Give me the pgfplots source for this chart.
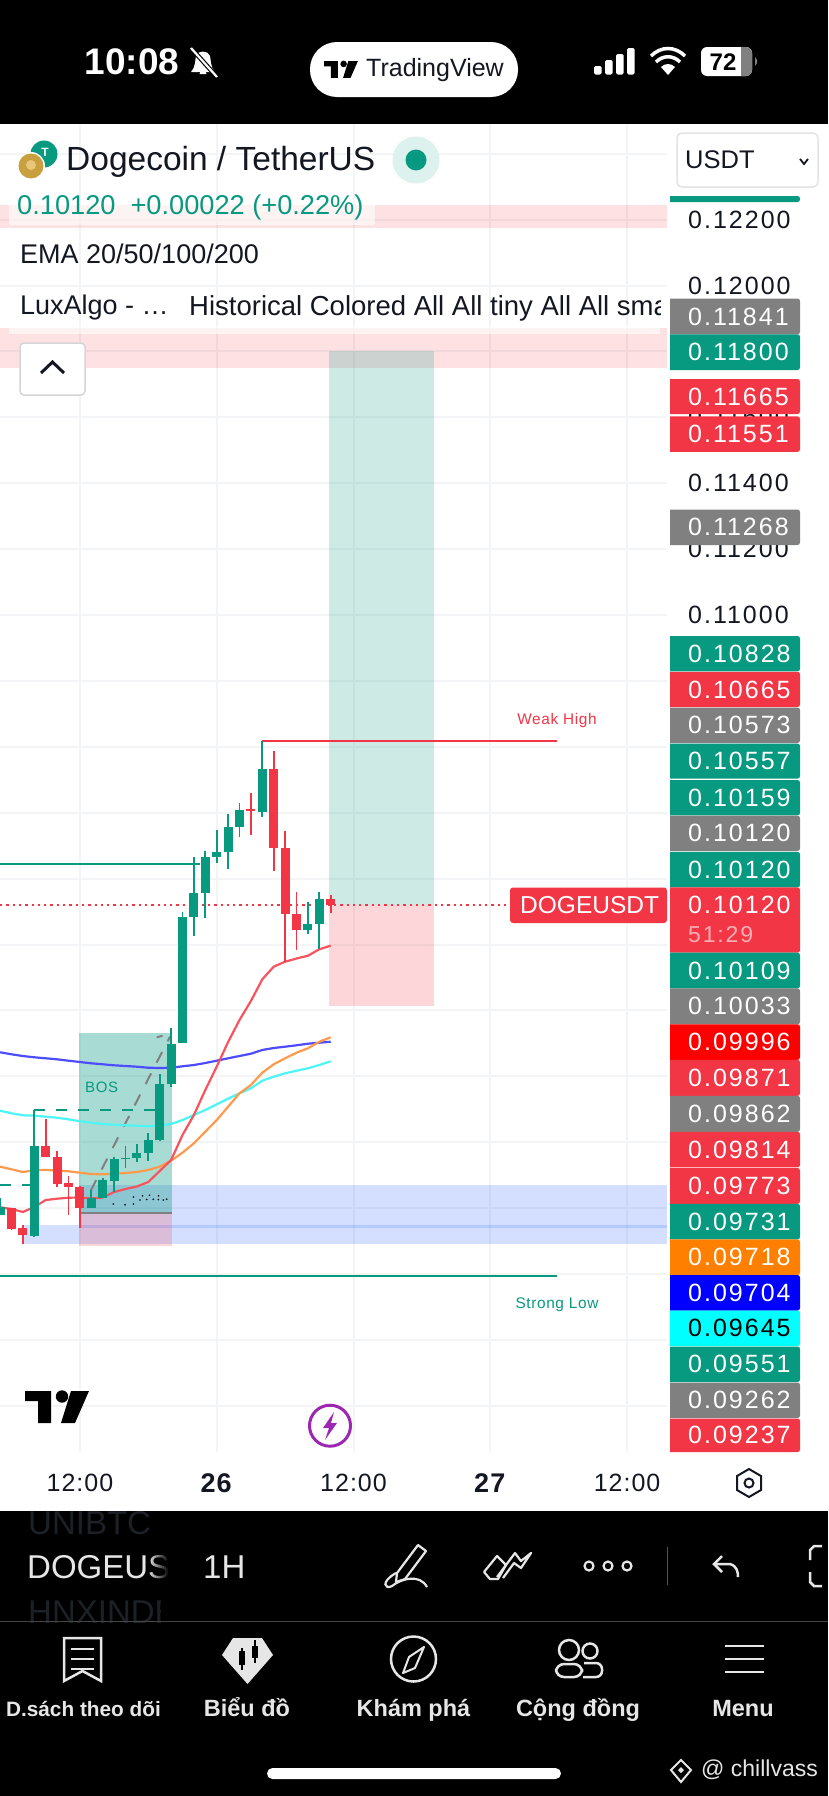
\documentclass[border=0pt]{standalone}
\usepackage{fontspec}
\usepackage{pgfplots}
\pgfplotsset{compat=1.18}
\usepackage{pgfplotstable}
\setmainfont{Liberation Sans}
\newfontfamily\pf[LetterSpace=8]{Liberation Sans}
\newfontfamily\af[LetterSpace=4]{Liberation Sans}
\newcommand\fs[1]{\fontsize{#1pt}{#1pt}\selectfont}
\definecolor{tvg}{HTML}{089981}
\definecolor{tvr}{HTML}{F23645}
\definecolor{tvk}{HTML}{131722}
\definecolor{gridc}{HTML}{F3F4F5}
\definecolor{ema20}{HTML}{F8545F}
\definecolor{ema50}{HTML}{FF9A4D}
\definecolor{ema100}{HTML}{4DF5F5}
\definecolor{ema200}{HTML}{4D4DFF}
\definecolor{zone}{HTML}{2962FF}
\definecolor{greyb}{HTML}{808080}
\definecolor{ghost}{HTML}{1C2027}
\definecolor{tabc}{HTML}{E6E6E6}
\definecolor{dogeg}{HTML}{C8A040}
\definecolor{dogel}{HTML}{E8C878}
\definecolor{dotbg}{HTML}{DDF2EE}
\definecolor{btnb}{HTML}{E3E3E3}
\definecolor{btnc}{HTML}{D5D5D5}
\definecolor{purp}{HTML}{9C27B0}
\definecolor{orng}{HTML}{FF8000}
\definecolor{sep}{HTML}{444444}
\definecolor{sepb}{HTML}{555555}
\definecolor{pcyan}{RGB}{0,255,255}
\definecolor{pblue}{RGB}{0,0,255}
\definecolor{pred}{RGB}{255,0,0}
\definecolor{dotc}{HTML}{9FD8F5}
\pgfplotstableread{
t l h bot top
-19 .091791 .092306 .091791 .092033
-16 .091123 .094977 .091153 .093885
-11 .092003 .092549 .092003 .092306
-10 .092306 .092913 .092306 .092853
-9 .092489 .093551 .092822 .093490
-8 .093217 .093885 .093490 .093520
-7 .093399 .093945 .093520 .093672
-6 .093429 .094279 .093672 .094067
-5 .094036 .096070 .094067 .095766
-4 .095675 .097466 .095766 .096980
-3 .097011 .100986 .097011 .100835
-2 .100258 .102656 .100835 .101563
-1 .100804 .102838 .101563 .102656
0 .102473 .103475 .102656 .102807
1 .102291 .103961 .102807 .103566
2 .103263 .104294 .103566 .104082
4 .103870 .106176 .104021 .105326
8 .100319 .101290 .100440 .100622
9 .099863 .101593 .100622 .101381
}\upcandles
\pgfplotstableread{
t l h bot top
-18 .091335 .092003 .091366 .092003
-17 .090910 .091487 .091184 .091396
-15 .093551 .094704 .093551 .093885
-14 .092640 .093733 .092731 .093551
-13 .091791 .092974 .092640 .092762
-12 .091396 .092671 .092003 .092640
3 .103323 .104598 .104052 .104112
5 .102231 .105873 .102929 .105326
6 .099469 .103445 .100926 .102929
7 .099833 .101593 .100440 .100926
10 .100956 .101502 .101199 .101381
}\downcandles
\pgfplotstableread{
t e20 e50 e100 e200
-19 .092025 .093257 .094956 .096729
-18 .091973 .093178 .094877 .096668
-17 .091882 .093096 .094817 .096616
-16 .092034 .093148 .094805 .096577
-15 .092246 .093157 .094774 .096547
-14 .092286 .093142 .094744 .096516
-13 .092316 .093117 .094695 .096474
-12 .092322 .093075 .094635 .096434
-11 .092292 .093035 .094592 .096395
-10 .092322 .093026 .094553 .096365
-9 .092489 .093044 .094531 .096334
-8 .092580 .093066 .094513 .096313
-7 .092656 .093096 .094501 .096292
-6 .092792 .093157 .094483 .096261
-5 .093126 .093257 .094513 .096252
-4 .093460 .093439 .094553 .096261
-3 .094219 .093682 .094674 .096304
-2 .094826 .093967 .094826 .096343
-1 .095585 .094319 .094978 .096404
0 .096292 .094674 .095151 .096474
1 .097041 .095078 .095321 .096547
2 .097709 .095484 .095484 .096616
3 .098286 .095736 .095636 .096686
4 .098944 .096110 .095867 .096799
5 .099327 .096365 .095988 .096859
6 .099478 .096547 .096091 .096899
7 .099575 .096717 .096170 .096941
8 .099660 .096850 .096243 .096990
9 .099855 .097050 .096343 .097020
10 .099964 .097184 .096456 .097050
}\emas
% badge: top, bottom, fill, text colour, text
\newcommand\badge[5]{%
  \fill[#3] (670,#1) {[rounded corners=2.5pt] -- (800,#1) -- (800,#2)} -- (670,#2) -- cycle;
  \pgfmathsetmacro\ymid{(#1+#2)/2}
  \node[anchor=west,inner sep=0pt,text=#4,font=\pf\fs{25}] at (688,\ymid) {#5};
}
\newcommand\tvlogo[4]{%
  \begin{scope}[shift={(#1,#2)},xscale=#3,yscale=#3]
   \fill[#4] (0,0) -- (26,0) -- (26,32) -- (13,32) -- (13,10) -- (0,10) -- cycle;
   \fill[#4] (37,5.5) circle (6.2);
   \fill[#4] (46,0) -- (64,0) -- (50,32) -- (36,32) -- cycle;
  \end{scope}}
\begin{document}
\begin{tikzpicture}
\useasboundingbox (0,0) rectangle (828pt,-1796pt);
\fill[white] (0,0) rectangle (828pt,-1796pt);
\begin{axis}[
  at={(0pt,-1452pt)},anchor=south west,
  scale only axis,width=667pt,height=1328pt,
  xmin=-19.009,xmax=39.5,ymin=0.084598,ymax=0.124901,
  axis line style={draw=none},
  major tick length=0pt,
  scaled y ticks=false,
  grid=major,
  grid style={draw=gridc,line width=2pt},
  xtick={-12,0,12,24,36},
  xticklabels={12:00,\fs{27}\textbf{26},12:00,\fs{27}\textbf{27},12:00},
  xticklabel style={font=\af\fs{25},text=tvk,anchor=center,inner sep=0pt,yshift=-31pt},
  ytick={0.086,0.088,0.09,0.092,0.094,0.096,0.098,0.1,0.102,0.104,0.106,0.108,0.11,0.112,0.114,0.116,0.118,0.12,0.122,0.124},
  yticklabels={,,,,,,,,,,,,0.11000,0.11200,0.11400,0.11600,,0.12000,0.12200,},
  yticklabel pos=right,
  yticklabel style={font=\pf\fs{25},text=tvk,anchor=west,inner sep=0pt,xshift=21pt},
]
% supply bands
\addplot[draw=none,fill=tvr,fill opacity=.15] coordinates {(-19.009,.122443)(39.5,.122443)(39.5,.121745)(-19.009,.121745)} -- cycle;
\addplot[draw=none,fill=tvr,fill opacity=.15] coordinates {(-19.009,.118710)(39.5,.118710)(39.5,.117496)(-19.009,.117496)} -- cycle;
% demand zones
\addplot[draw=none,fill=zone,fill opacity=.2] coordinates {(-12.08,.092701)(39.5,.092701)(39.5,.090910)(-12.08,.090910)} -- cycle;
\addplot[draw=none,fill=zone,fill opacity=.2] coordinates {(-17,.091487)(-12.08,.091487)(-12.08,.090910)(-17,.090910)} -- cycle;
\addplot[draw=zone,draw opacity=.18,line width=3pt] coordinates {(-12.08,.091441)(39.5,.091441)};
% long position
\addplot[draw=none,fill=tvg,fill opacity=.2] coordinates {(9.88,.11800)(19.06,.11800)(19.06,.1012)(9.88,.1012)} -- cycle;
\addplot[draw=none,fill=tvr,fill opacity=.2] coordinates {(9.88,.1012)(19.06,.1012)(19.06,.09814)(9.88,.09814)} -- cycle;
% BOS box
\addplot[draw=none,fill=tvg,fill opacity=.35] coordinates {(-12.08,.097323)(-3.92,.097323)(-3.92,.091851)(-12.08,.091851)} -- cycle;
\addplot[draw=none,fill=tvr,fill opacity=.2] coordinates {(-12.08,.091851)(-3.92,.091851)(-3.92,.090850)(-12.08,.090850)} -- cycle;
\addplot[draw=greyb,line width=2pt] coordinates {(-12.08,.091851)(-3.92,.091851)};
\addplot[only marks,mark=*,mark size=.6pt,mark options={draw=none,fill=dotc}] coordinates {(-9.07,.092124)(-8.04,.092100)(-7.3,.092124)(-6.73,.092246)(-6.14,.092260)(-5.56,.092270)(-5.12,.092260)(-4.68,.092246)(-4.39,.092270)(-7.3,.092337)(-6.5,.092370)(-5.9,.092390)(-5.1,.092370)};
% structure lines
\addplot[draw=tvg,line width=2pt] coordinates {(-19.009,.102434)(-1.46,.102434)};
\addplot[draw=tvg,line width=2pt] coordinates {(-19.009,.089949)(29.85,.089949)};
\addplot[draw=tvr,line width=2pt] coordinates {(4,.106167)(29.85,.106167)};
\addplot[draw=tvg,line width=2pt,dash pattern=on 11pt off 11pt] coordinates {(-16,.094968)(-5.3,.094968)};
\addplot[draw=tvg,line width=2pt,dash pattern=on 11pt off 11pt] coordinates {(-19.009,.092710)(-16.3,.092710)};
\addplot[draw=tvr,line width=2pt,dash pattern=on 2.3pt off 4pt] coordinates {(-19.009,.1012)(39.5,.1012)};
\addplot[draw=greyb,line width=2pt,dash pattern=on 12pt off 12pt] coordinates {(-11.05,.092528)(-4.1,.097202)};
\addplot[draw=greyb,line width=2pt,dash pattern=on 6pt off 4pt] coordinates {(-5.26,.097182)(-4.53,.097253)};
% EMAs
\addplot[draw=ema200,line width=2.2pt] table[x=t,y=e200] {\emas};
\addplot[draw=ema100,line width=2.2pt] table[x=t,y=e100] {\emas};
\addplot[draw=ema50,line width=2.2pt] table[x=t,y=e50] {\emas};
\addplot[draw=ema20,line width=2.2pt] table[x=t,y=e20] {\emas};
% candles
\addplot[draw=none,mark=none,forget plot,error bars/.cd,y dir=plus,y explicit,error mark=none,error bar style={draw=tvg,line width=1.8pt}] table[x=t,y=l,y error expr=\thisrow{h}-\thisrow{l}] {\upcandles};
\addplot[draw=none,mark=none,forget plot,error bars/.cd,y dir=plus,y explicit,error mark=none,error bar style={draw=tvg,line width=9pt}] table[x=t,y=bot,y error expr=\thisrow{top}-\thisrow{bot}] {\upcandles};
\addplot[draw=none,mark=none,forget plot,error bars/.cd,y dir=plus,y explicit,error mark=none,error bar style={draw=tvr,line width=1.8pt}] table[x=t,y=l,y error expr=\thisrow{h}-\thisrow{l}] {\downcandles};
\addplot[draw=none,mark=none,forget plot,error bars/.cd,y dir=plus,y explicit,error mark=none,error bar style={draw=tvr,line width=9pt}] table[x=t,y=bot,y error expr=\thisrow{top}-\thisrow{bot}] {\downcandles};
\node[text=tvr,font=\af\fs{15.4}] at (axis cs:29.85,.106813) {Weak High};
\node[text=tvg,font=\af\fs{15.4}] at (axis cs:29.85,.089060) {Strong Low};
\node[text=tvg,font=\af\fs{15}] at (axis cs:-10.09,.095655) {BOS};
\end{axis}
\begin{scope}[x=1pt,y=-1pt]
% status bar
\fill[black] (0,0) rectangle (828,124);
\node[text=white,font=\bfseries\fs{37},anchor=center] at (132,62) {10:08};
\begin{scope}[shift={(203,62)}]
 \fill[white] (-12,10) .. controls (-7,4) and (-8,-2) .. (-7,-6) .. controls (-5,-12) and (5,-12) .. (7,-6) .. controls (8,-2) and (7,4) .. (12,10) -- cycle;
 \fill[white] (-3.5,12) arc (180:360:3.5) -- cycle;
 \draw[black,line width=4.5pt] (-12,-14) -- (14,15);
 \draw[white,line width=2.2pt] (-12,-14) -- (14,15);
\end{scope}
\fill[white,rounded corners=27pt] (310,42) rectangle (518,97);
\tvlogo{324}{61}{.53}{black}
\node[text=tvk,font=\fs{25},anchor=west,inner sep=0pt] at (366,70) {TradingView};
\foreach \xx/\yy in {594/66,605/60,616/54,627/48} {\fill[white,rounded corners=1.5pt] (\xx,\yy) rectangle ({\xx+7.5},74.5);}
\fill[white] (668,75) -- (661,67) .. controls (665,63) and (671,63) .. (675,67) -- cycle;
\draw[white,line width=3.5pt] (656,62) .. controls (663,55) and (673,55) .. (680,62);
\draw[white,line width=3.5pt] (651,56) .. controls (661,46) and (675,46) .. (685,56);
\fill[white,rounded corners=6pt] (701,47) rectangle (752,76);
\begin{scope}\clip (741,47) rectangle (752,76);\fill[greyb,rounded corners=6pt] (701,47) rectangle (752,76);\end{scope}
\fill[greyb] (755,57) -- (757,60) -- (757,63) -- (755,66) -- cycle;
\node[text=black,font=\bfseries\fs{24}] at (723,62) {72};
% header rows
\fill[white,opacity=.6] (9,205) rectangle (375,225);
\fill[white,opacity=.6] (9,326) rectangle (660,334);
\fill[tvg] (44,154) circle (13.5);
\node[text=white,font=\bfseries\fs{12}] at (45,152) {T};
\fill[white] (31,166) circle (14);
\fill[dogeg] (31,166) circle (12.5);
\fill[dogel] (31,165) circle (5);
\node[text=tvk,font=\fs{33.5},anchor=west,inner sep=0pt] at (66,161.5) {Dogecoin / TetherUS};
\fill[dotbg] (416,160) circle (23.5);
\fill[tvg] (416,160) circle (10.5);
\filldraw[fill=white,draw=btnb,rounded corners=5pt,line width=1.5pt] (677,133) rectangle (818,187);
\node[text=tvk,font=\fs{25.5},anchor=west,inner sep=0pt] at (685,160) {USDT};
\draw[tvk,line width=1.8pt] (800,159) -- (804,164) -- (808,159);
\node[text=tvg,font=\fs{27.2},anchor=west,inner sep=0pt] at (17,207) {0.10120\ \ +0.00022 (+0.22\%)};
\node[text=tvk,font=\fs{27},anchor=west,inner sep=0pt] at (20,253.5) {EMA 20/50/100/200};
\node[text=tvk,font=\fs{27},anchor=west,inner sep=0pt] at (20,308) {LuxAlgo - …};
\begin{scope}\clip (185,285) rectangle (660,330);
\node[text=tvk,font=\fs{27.5},anchor=west,inner sep=0pt] at (189,308) {Historical Colored All All tiny All All small};
\end{scope}
\filldraw[fill=white,draw=btnc,rounded corners=4pt,line width=1.5pt] (20,343) rectangle (85,395);
\draw[tvk,line width=3pt] (41,373) -- (52.5,362) -- (64,373);
% top sliver badge and price badges
\fill[tvg] (670,196) {[rounded corners=2.5pt] -- (800,196) -- (800,202)} -- (670,202) -- cycle;
\badge{298.6}{334.3}{greyb}{white}{0.11841}
\badge{334.3}{370}{tvg}{white}{0.11800}
\badge{379}{414}{tvr}{white}{0.11665}
\badge{416.4}{451.8}{tvr}{white}{0.11551}
\badge{509.6}{545}{greyb}{white}{0.11268}
\badge{636}{671.4}{tvg}{white}{0.10828}
\badge{671.8}{707}{tvr}{white}{0.10665}
\badge{707.5}{743}{greyb}{white}{0.10573}
\badge{743.6}{778.6}{tvg}{white}{0.10557}
\badge{780}{815.4}{tvg}{white}{0.10159}
\badge{815.7}{851}{greyb}{white}{0.10120}
\badge{851.9}{887.4}{tvg}{white}{0.10120}
\fill[tvr] (670,887.4) {[rounded corners=2.5pt] -- (800,887.4) -- (800,952.7)} -- (670,952.7) -- cycle;
\node[anchor=west,inner sep=0pt,text=white,font=\pf\fs{25}] at (688,905) {0.10120};
\node[anchor=west,inner sep=0pt,text=white,text opacity=.6,font=\pf\fs{23}] at (688,934.5) {51:29};
\badge{952.7}{988.3}{tvg}{white}{0.10109}
\badge{988.3}{1024.3}{greyb}{white}{0.10033}
\badge{1024.3}{1059.8}{pred}{white}{0.09996}
\badge{1059.8}{1095.8}{tvr}{white}{0.09871}
\badge{1095.8}{1131.8}{greyb}{white}{0.09862}
\badge{1131.8}{1167.4}{tvr}{white}{0.09814}
\badge{1168}{1203.8}{tvr}{white}{0.09773}
\badge{1203.8}{1239.4}{tvg}{white}{0.09731}
\badge{1239.4}{1275}{orng}{white}{0.09718}
\badge{1275}{1310.5}{pblue}{white}{0.09704}
\badge{1310.5}{1346}{pcyan}{black}{0.09645}
\badge{1346.5}{1382}{tvg}{white}{0.09551}
\badge{1382.5}{1418}{greyb}{white}{0.09262}
\badge{1418.5}{1452}{tvr}{white}{0.09237}
% symbol label
\fill[tvr,rounded corners=3pt] (510,887.5) rectangle (667,923);
\node[text=white,font=\fs{24.5},anchor=west,inner sep=0pt] at (520,905.5) {DOGEUSDT};
% logo, lightning, hexagon
\tvlogo{25}{1391}{1}{black}
\draw[purp,line width=3pt] (330,1425.7) circle (20.5);
\fill[purp] (334,1412) -- (323,1428) -- (329,1428) -- (325,1440) -- (337,1423) -- (331,1423) -- cycle;
\draw[tvk,line width=2pt] (749,1469) -- (761,1476) -- (761,1490) -- (749,1497) -- (737,1490) -- (737,1476) -- cycle;
\draw[tvk,line width=2pt] (749,1483) circle (4.5);
% bottom panel
\fill[black] (0,1511) rectangle (828,1796);
\begin{scope}\clip (0,1511) rectangle (164,1540);
\node[text=ghost,font=\fs{33},anchor=west,inner sep=0pt] at (28,1523) {UNIBTC};
\end{scope}
\begin{scope}\clip (0,1592) rectangle (160,1625);
\node[text=ghost,font=\fs{33},anchor=west,inner sep=0pt] at (28,1612) {HNXINDEX};
\end{scope}
\begin{scope}\clip (0,1540) rectangle (171,1595);
\node[text=tabc,font=\fs{33},anchor=west,inner sep=0pt] at (27,1567) {DOGEUSDT};
\foreach \ii in {0,...,9} {\pgfmathsetmacro\oo{.1*(\ii+1)}\fill[black,opacity=\oo] ({150+2*\ii},1540) rectangle ({152+2*\ii},1595);}
\fill[black] (170,1540) rectangle (172,1595);
\end{scope}
\node[text=tabc,font=\fs{33},anchor=west,inner sep=0pt] at (203,1567) {1H};
\draw[sep,line width=1pt] (0,1621) -- (828,1621);
% toolbar icons
\draw[tabc,line width=2.2pt,line join=round] (397,1573) -- (418,1545) -- (426,1551) -- (405,1579) -- (396,1582) -- cycle;
\draw[tabc,line width=2.2pt] (396,1573) .. controls (380,1582) and (385,1590) .. (392,1586) .. controls (402,1578) and (420,1574) .. (427,1587);
\draw[tabc,line width=2.2pt,line join=round] (484,1572) -- (497,1556) -- (506,1565) -- (498,1579) -- (490,1579) -- (484,1572);
\draw[tabc,line width=2.2pt,line join=round] (497,1577) -- (515,1553) -- (521,1561) -- (531,1553) -- (521,1568) -- (514,1563) -- (503,1578);
\foreach \xx in {589,608,627} {\draw[tabc,line width=2.2pt] (\xx,1566) circle (4.5);}
\draw[sepb,line width=1pt] (667,1547) -- (667,1585);
\draw[tabc,line width=2.5pt] (722,1556) -- (714,1564) -- (722,1572);
\draw[tabc,line width=2.5pt] (714,1564) -- (730,1564) .. controls (737,1566) and (738,1572) .. (738,1577);
\draw[tabc,line width=2.5pt] (822,1546) -- (814,1546) -- (810,1550) -- (810,1560);
\draw[tabc,line width=2.5pt] (822,1586) -- (814,1586) -- (810,1582) -- (810,1572);
% tab bar icons
\draw[tabc,line width=2.5pt,line join=miter] (64,1638) -- (101,1638) -- (101,1681) -- (82.5,1671) -- (64,1681) -- cycle;
\foreach \yy in {1649,1659,1669} {\draw[tabc,line width=2.5pt] (71,\yy) -- (94,\yy);}
\fill[tabc] (233,1638) -- (262,1638) -- (273,1655) -- (247.5,1684) -- (222,1655) -- cycle;
\draw[black,line width=2pt] (240,1652) rectangle (244,1664);\draw[black,line width=2pt] (242,1648) -- (242,1670);
\fill[black] (252,1646) rectangle (258,1658);\draw[black,line width=2pt] (255,1640) -- (255,1663);
\draw[tabc,line width=2.5pt] (413.5,1659) circle (22.5);
\draw[tabc,line width=2pt,line join=round] (424,1647) -- (415,1668) -- (403,1673) -- (409,1657) -- cycle;
\draw[tabc,line width=2.5pt] (569,1650) circle (10);
\draw[tabc,line width=2.5pt] (590,1651) circle (7.5);
\draw[tabc,line width=2.5pt,rounded corners=8pt] (556,1677) -- (556,1664) -- (582,1664) -- (582,1677) -- cycle;
\draw[tabc,line width=2.5pt,rounded corners=6pt] (584,1663) -- (602,1663) -- (602,1677) -- (583,1677);
\foreach \yy in {1646,1659,1672} {\draw[tabc,line width=2.8pt] (725,\yy) -- (764,\yy);}
\node[text=tabc,font=\bfseries\fs{20.8},anchor=base,inner sep=0pt] at (83.5,1716) {D.sách theo dõi};
\foreach \xx/\tt in {247/Biểu đồ,413.5/Khám phá,578/Cộng đồng,743/Menu} {\node[text=tabc,font=\bfseries\fs{23.5},anchor=base,inner sep=0pt] at (\xx,1716) {\tt};}
\fill[white,rounded corners=5.5pt] (267,1768) rectangle (561,1779);
% watermark
\begin{scope}[shift={(681,1770)}]
 \draw[tabc,line width=2pt] (-10,0) -- (0,-10) -- (10,0) -- (0,12) -- cycle;
 \fill[tabc] (0,-3) -- (3,0) -- (0,3) -- (-3,0) -- cycle;
\end{scope}
\node[text=tabc,font=\fs{23},anchor=west,inner sep=0pt] at (701,1770) {@ chillvass};
\end{scope}
\end{tikzpicture}
\end{document}
